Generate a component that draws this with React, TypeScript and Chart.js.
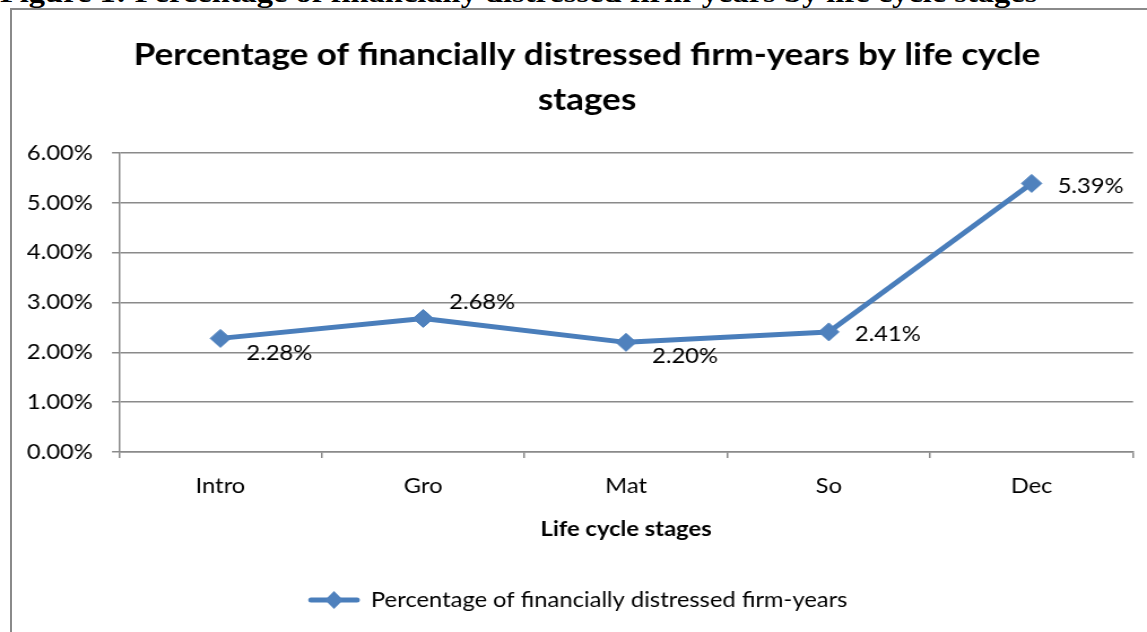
import React, { useEffect, useRef } from "react";
import { Chart, registerables } from "chart.js";

Chart.register(...registerables);

// ---- data ----
const figureCaption =
  "Figure 1: Percentage of financially distressed firm-years by life cycle stages";
const titleLines = [
  "Percentage of financially distressed firm-years by life cycle",
  "stages",
];
const categories = ["Intro", "Gro", "Mat", "So", "Dec"];
const seriesLabel = "Percentage of financially distressed firm-years";
const values = [2.28, 2.68, 2.2, 2.41, 5.39];
const yTickValues = [0, 1, 2, 3, 4, 5, 6];
const xAxisTitle = "Life cycle stages";

// ---- style ----
const FONT = "Lato, 'Noto Sans', sans-serif";
const LINE_COLOR = "#4A7EBB";
const MARKER_COLOR = "#4F81BD";
const GRID_COLOR = "#8a8a8a";
const labelShiftY = [15, -16, 14, 2, 3];
const PAGE_W = 1147;
const PAGE_H = 632;
const SX = 1.13; // horizontal stretch of the drawn chart
const CW = Math.round(PAGE_W / SX);
const px = (x: number) => x / SX; // page x -> canvas x

const overlayPlugin = {
  id: "overlay",
  afterDatasetsDraw(chart: any) {
    const ctx = chart.ctx;
    ctx.save();
    // data labels
    const meta = chart.getDatasetMeta(0);
    ctx.font = `21px ${FONT}`;
    ctx.fillStyle = "#000";
    ctx.textAlign = "left";
    ctx.textBaseline = "middle";
    meta.data.forEach((pt: any, i: number) => {
      ctx.fillText(values[i].toFixed(2) + "%", pt.x + px(26), pt.y + labelShiftY[i]);
    });
    // title
    ctx.font = `bold 31px ${FONT}`;
    ctx.textAlign = "center";
    ctx.fillText(titleLines[0], px(587), 55);
    ctx.fillText(titleLines[1], px(587), 100);
    // legend
    const ly = 600;
    ctx.strokeStyle = LINE_COLOR;
    ctx.lineWidth = 5;
    ctx.lineCap = "round";
    ctx.beginPath();
    ctx.moveTo(px(311), ly);
    ctx.lineTo(px(357), ly);
    ctx.stroke();
    ctx.fillStyle = MARKER_COLOR;
    const cx = px(334);
    const hw = px(9);
    ctx.beginPath();
    ctx.moveTo(cx, ly - 9);
    ctx.lineTo(cx + hw, ly);
    ctx.lineTo(cx, ly + 9);
    ctx.lineTo(cx - hw, ly);
    ctx.closePath();
    ctx.fill();
    ctx.fillStyle = "#000";
    ctx.font = `21px ${FONT}`;
    ctx.textAlign = "left";
    ctx.fillText(seriesLabel, px(371), ly);
    ctx.restore();
  },
};

export default function App() {
  const ref = useRef<HTMLCanvasElement | null>(null);
  useEffect(() => {
    if (!ref.current) return;
    const chart = new Chart(ref.current, {
      type: "line",
      data: {
        labels: categories,
        datasets: [
          {
            label: seriesLabel,
            data: values,
            borderColor: LINE_COLOR,
            backgroundColor: MARKER_COLOR,
            borderWidth: 5,
            borderJoinStyle: "round",
            pointStyle: "rectRot",
            pointRadius: 9,
            pointBackgroundColor: MARKER_COLOR,
            pointBorderColor: MARKER_COLOR,
            pointBorderWidth: 1,
            tension: 0,
          },
        ],
      },
      options: {
        animation: false,
        responsive: false,
        maintainAspectRatio: false,
        devicePixelRatio: 1,
        layout: {
          padding: { left: 10, right: CW - px(1133), top: 153, bottom: 90 },
        },
        plugins: {
          legend: { display: false },
          title: { display: false },
          tooltip: { enabled: false },
        },
        scales: {
          y: {
            min: 0,
            max: 6,
            afterBuildTicks: (s: any) => {
              s.ticks = yTickValues.map((v) => ({ value: v }));
            },
            afterFit: (s: any) => {
              s.width = px(119) - 10;
            },
            ticks: {
              color: "#000",
              font: { family: FONT, size: 21 },
              padding: 17,
              callback: (v: any) => Number(v).toFixed(2) + "%",
            },
            grid: { color: GRID_COLOR, lineWidth: 1.5, tickLength: px(7) },
            border: { color: GRID_COLOR, width: 1.5 },
          },
          x: {
            offset: true,
            afterFit: (s: any) => {
              s.height = 90;
            },
            grid: {
              offset: true,
              drawOnChartArea: false,
              color: GRID_COLOR,
              lineWidth: 1.5,
              tickLength: 6,
            },
            border: { color: GRID_COLOR, width: 1.5 },
            ticks: {
              color: "#000",
              font: { family: FONT, size: 21 },
              padding: 16,
              maxRotation: 0,
            },
            title: {
              display: true,
              text: xAxisTitle,
              color: "#000",
              font: { family: FONT, size: 21, weight: "bold" },
              padding: { top: 4, bottom: 0 },
            },
          },
        },
      },
      plugins: [overlayPlugin],
    });
    return () => chart.destroy();
  }, []);

  return (
    <div
      style={{
        position: "absolute",
        left: 0,
        top: 0,
        width: PAGE_W,
        height: PAGE_H,
        overflow: "hidden",
        background: "#fff",
      }}
    >
      <div
        style={{
          position: "absolute",
          left: 0,
          top: -21,
          whiteSpace: "nowrap",
          fontFamily: "'Liberation Serif', 'Times New Roman', serif",
          fontWeight: "bold",
          fontSize: 28,
          lineHeight: "28px",
          color: "#000",
          transform: "scaleX(1.16)",
          transformOrigin: "left top",
        }}
      >
        {figureCaption}
      </div>
      <div
        style={{
          position: "absolute",
          left: 10,
          top: 8,
          width: 1200,
          height: 700,
          border: "2px solid #8a8a8a",
          boxSizing: "border-box",
        }}
      />
      <div
        style={{
          position: "absolute",
          left: 0,
          top: 0,
          width: CW,
          height: PAGE_H,
          transform: `scaleX(${PAGE_W / CW})`,
          transformOrigin: "left top",
        }}
      >
        <canvas
          ref={ref}
          width={CW}
          height={PAGE_H}
          style={{ display: "block", width: CW, height: PAGE_H }}
        />
      </div>
    </div>
  );
}
